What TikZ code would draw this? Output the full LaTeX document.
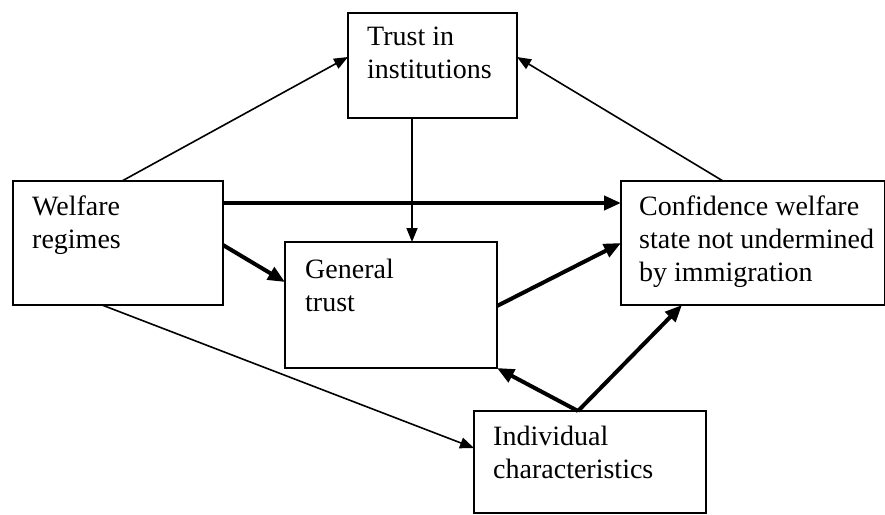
\documentclass[tikz,border=0pt]{standalone}
\usepackage{fontspec}
\setmainfont{Liberation Serif}
\usetikzlibrary{arrows.meta}
\begin{document}
\begin{tikzpicture}[x=1pt,y=-1pt,
  box/.style={draw, line width=1.8pt, rectangle, inner sep=0pt, outer sep=0pt, anchor=north west},
  lbl/.style={anchor=base west, inner sep=0pt, font=\fontsize{28}{33}\selectfont, align=left},
  thinarr/.style={line width=1.6pt, -{Triangle[length=14pt,width=11pt]}},
  thickarr/.style={line width=4pt, -{Triangle[length=17pt,width=14pt]}}]
\useasboundingbox (0,0) rectangle (885,514);
\node[box, minimum width=169pt, minimum height=105pt] (trust) at (348,13) {};
\node[box, minimum width=210pt, minimum height=124pt] (welf) at (13,181) {};
\node[box, minimum width=212pt, minimum height=126pt] (gen) at (285,242) {};
\node[box, minimum width=264pt, minimum height=124pt] (conf) at (621,181) {};
\node[box, minimum width=232pt, minimum height=102pt] (ind) at (474,411) {};
\node[lbl] (ttrust) at (367,78) {Trust in\\institutions};
\node[lbl] (twelf) at (32,248) {Welfare\\regimes};
\node[lbl] (tgen) at (305,311) {General\\trust};
\node[lbl] (tconf) at (639,281) {Confidence welfare\\state not undermined\\by immigration};
\node[lbl] (tind) at (493,478) {Individual\\characteristics};
\draw[thinarr] ([xshift=109pt]welf.north west) -- ([yshift=-44pt]trust.north west);
\draw[thinarr] ([xshift=102pt]conf.north west) -- ([yshift=-44pt]trust.north east);
\draw[thinarr] ([xshift=64pt]trust.south west) -- ([xshift=127pt]gen.north west);
\draw[thickarr] ([yshift=-22pt]welf.north east) -- ([yshift=-22pt]conf.north west);
\draw[thickarr] ([yshift=-64pt]welf.north east) -- ([yshift=-40pt]gen.north west);
\draw[thickarr] ([yshift=-64pt]gen.north east) -- ([yshift=-62pt]conf.north west);
\draw[thickarr] ([xshift=104pt]ind.north west) -- (gen.south east);
\draw[thickarr] ([xshift=104pt]ind.north west) -- ([xshift=61pt]conf.south west);
\draw[thinarr] ([xshift=89pt]welf.south west) -- ([yshift=-37pt]ind.north west);
\end{tikzpicture}
\end{document}
